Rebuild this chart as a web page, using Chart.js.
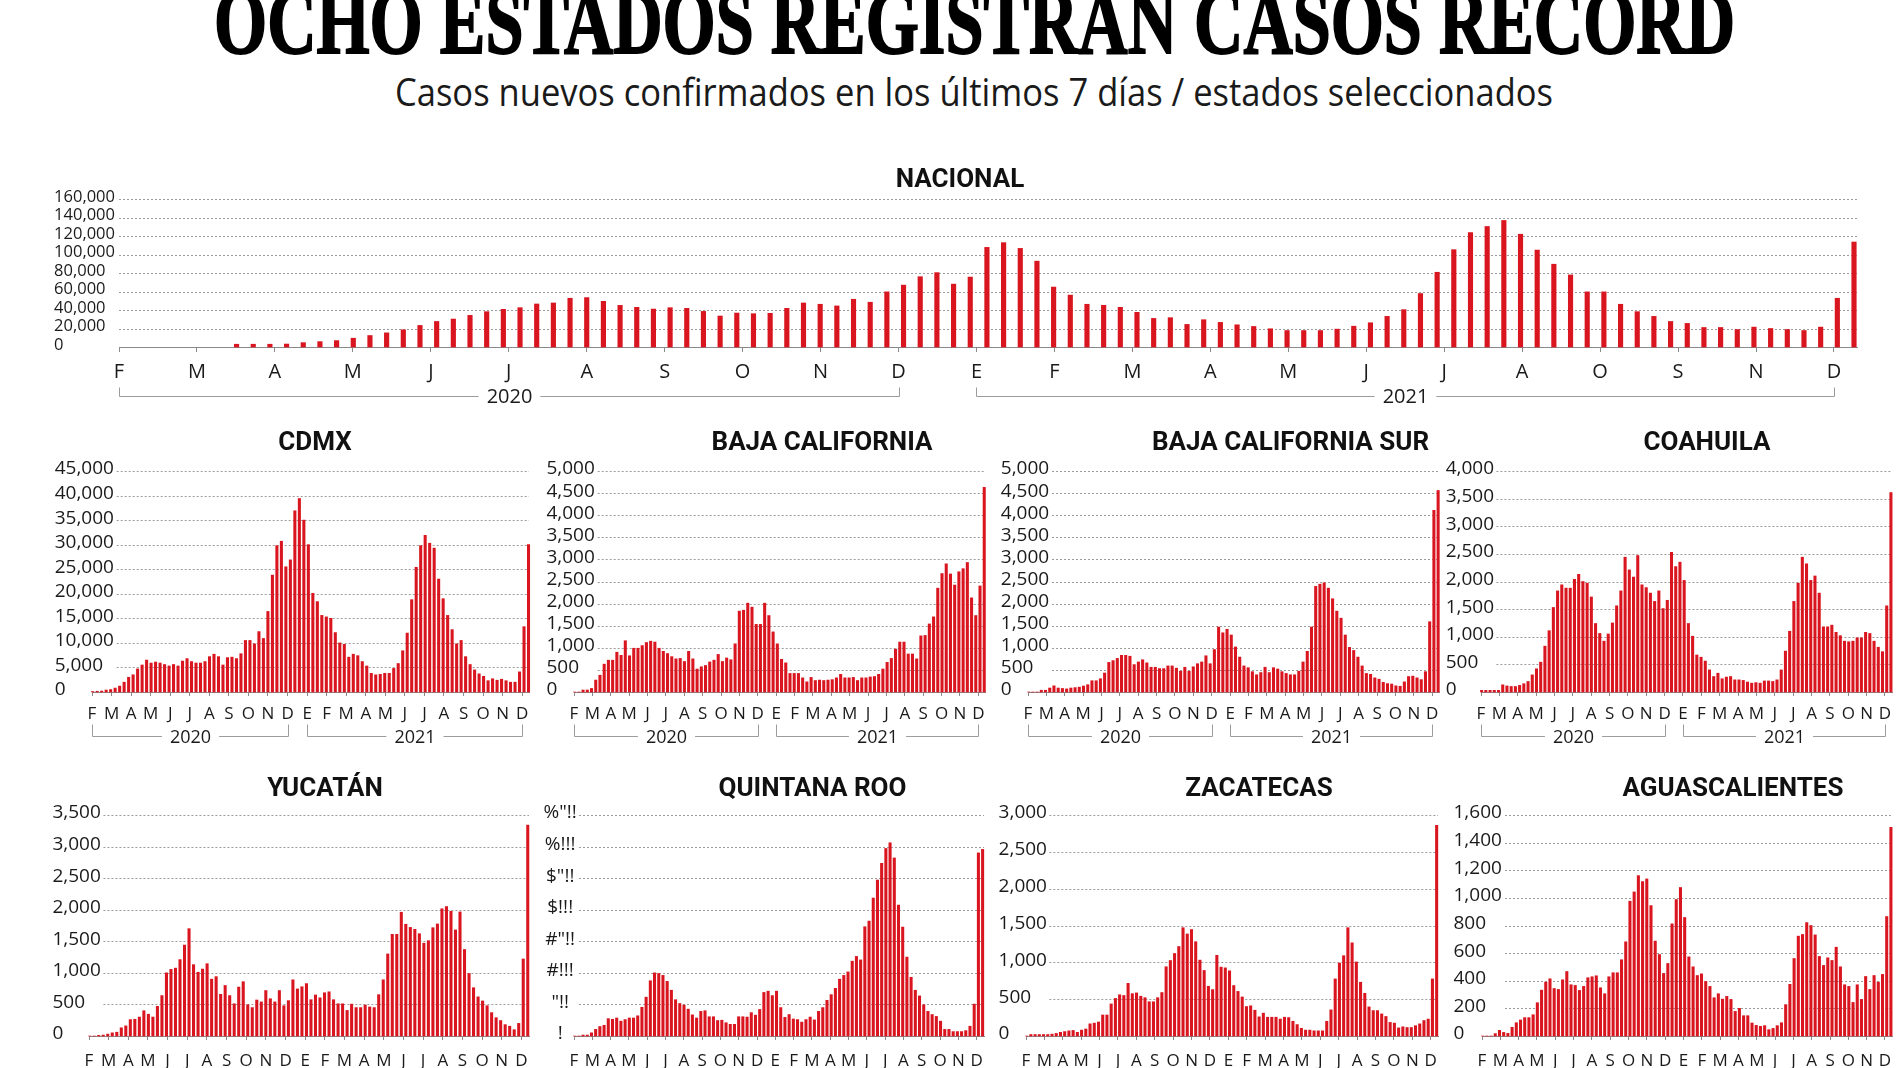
<!DOCTYPE html>
<html lang="es">
<head>
<meta charset="utf-8">
<title>Ocho estados registran casos récord</title>
<script src="https://cdn.jsdelivr.net/npm/chart.js@4.4.1/dist/chart.umd.min.js"></script>
<style>
    html, body { margin: 0; padding: 0; background: #fff; width: 1900px; height: 1068px; overflow: hidden; }
    .txt { position: absolute; white-space: nowrap; line-height: 1; transform-origin: 0 0; color: #111; }
    #titulo { font-family: "Liberation Serif", serif; font-weight: 700; font-size: 94px; -webkit-text-stroke: 2px #000; color: #000; }
    #subtitulo { font-family: "Open Sans", sans-serif; font-size: 38px; color: #1a1a1a; }
    .panel-t { font-family: Roboto, sans-serif; font-weight: 700; font-size: 26px; color: #111; }
    canvas { position: absolute; }
</style>
</head>
<body>
<div id="titulo" class="txt">OCHO ESTADOS REGISTRAN CASOS RECORD</div>
<div id="subtitulo" class="txt">Casos nuevos confirmados en los últimos 7 días / estados seleccionados</div>

<script>
// etiquetas de meses
const meses20 = ["F", "M", "A", "M", "J", "J", "A", "S", "O", "N", "D"];
const meses21 = ["E", "F", "M", "A", "M", "J", "J", "A", "S", "O", "N", "D"];
const mesesNac21 = ["E", "F", "M", "A", "M", "J", "J", "A", "O", "S", "N", "D"];
const anios = [{ texto: "2020", desde: 0, hasta: 10 }, { texto: "2021", desde: 11, hasta: 22 }];

// etiquetas del eje y de Quintana Roo tal como salen en la imagen
const ticksQR = ["!", "\"!!", "#!!!", "#\"!!", "$!!!", "$\"!!", "%!!!", "%\"!!"];

// casos nuevos por semana
const nacional = [3000, 3000, 3000, 3200, 4700, 5800, 6900, 9500, 12400, 15300,
    18600, 23300, 27600, 30200, 34200, 38200, 40700, 42500, 46500, 47600,
    52700, 53400, 49400, 45000, 42900, 41000, 42500, 41800, 38500, 33500,
    36700, 36000, 36400, 41800, 47600, 46200, 44400, 51600, 48400, 59600,
    66900, 76000, 80400, 68000, 75600, 107700, 112800, 106600, 92800, 64800,
    56100, 46200, 45100, 42900, 37500, 30900, 31700, 24400, 29500, 26600,
    24000, 22200, 19700, 17800, 17800, 17800, 19300, 22500, 26200, 33100,
    40400, 57800, 80800, 105200, 123700, 130300, 136800, 121900, 104800, 89500,
    77900, 59600, 59600, 46200, 38200, 33100, 27600, 25500, 21100, 21100,
    18900, 21500, 20000, 18900, 17800, 21500, 52700, 113500];

const cdmx = [100, 150, 200, 400, 500, 800, 1200, 2000, 3000, 3500,
    4700, 5500, 6500, 5900, 6100, 5900, 5600, 5300, 5600, 5300,
    6300, 6800, 6200, 5900, 5900, 6200, 7200, 7700, 7200, 5500,
    7000, 7100, 6800, 7800, 10500, 10500, 9800, 12300, 10900, 16400,
    23800, 29800, 30700, 25500, 26900, 36900, 39400, 35000, 30000, 20100,
    18400, 15600, 15300, 15000, 12100, 10000, 9700, 7100, 7700, 7400,
    6200, 5300, 3800, 3500, 3600, 3800, 3800, 4800, 5800, 8400,
    12000, 18800, 25400, 29800, 31900, 30300, 29300, 23000, 19000, 15600,
    12700, 9800, 10500, 7200, 5600, 4500, 3700, 3200, 2300, 2700,
    2400, 2600, 2300, 2000, 2000, 4100, 13300, 30000];

const bajaCalifornia = [0, 0, 45, 45, 80, 270, 380, 630, 720, 720, 900, 830,
    1160, 820, 990, 990, 1050, 1120, 1150, 1130, 990, 920,
    870, 800, 750, 760, 690, 920, 750, 520, 570, 600,
    680, 720, 850, 690, 770, 730, 1090, 1830, 1850, 2010,
    1920, 1530, 1530, 2010, 1730, 1360, 1090, 740, 660, 420,
    420, 420, 320, 230, 330, 260, 270, 260, 270, 280,
    320, 400, 320, 320, 330, 260, 320, 320, 340, 350,
    400, 520, 670, 760, 970, 1130, 1130, 860, 860, 750,
    1270, 1280, 1540, 1700, 2350, 2680, 2900, 2670, 2420, 2720,
    2790, 2930, 2130, 1730, 2400, 4630];

const bajaCaliforniaSur = [0, 0, 0, 40, 40, 90, 140, 90, 80, 70, 90, 100, 110,
    135, 165, 255, 255, 300, 430, 670, 710, 760, 830,
    830, 810, 620, 680, 730, 660, 560, 560, 530, 530,
    590, 590, 540, 470, 560, 470, 570, 640, 680, 820,
    640, 960, 1470, 1340, 1420, 1290, 1020, 790, 590, 550,
    460, 390, 440, 560, 440, 550, 520, 460, 420, 390,
    390, 470, 680, 920, 1470, 2390, 2440, 2470, 2350, 2110,
    1830, 1670, 1290, 1010, 940, 790, 590, 420, 400, 320,
    290, 220, 190, 180, 140, 130, 230, 350, 360, 320,
    280, 460, 1590, 4110, 4560];

const coahuila = [30, 30, 30, 30, 30, 130, 110, 100, 100, 120,
    150, 190, 310, 420, 540, 830, 1110, 1530, 1830, 1940,
    1880, 1880, 2040, 2130, 2000, 1970, 1720, 1240, 1060, 920,
    1050, 1250, 1560, 1830, 2440, 2210, 2080, 2470, 1940, 1890,
    1790, 1640, 1830, 1510, 1660, 2530, 2270, 2350, 2020, 1240,
    1010, 670, 630, 560, 400, 280, 340, 240, 270, 280,
    220, 220, 210, 180, 160, 170, 160, 200, 200, 190,
    220, 400, 740, 1100, 1640, 1970, 2440, 2320, 2020, 2100,
    1790, 1180, 1180, 1210, 1080, 1020, 920, 910, 920, 980,
    980, 1080, 1060, 920, 810, 730, 1560, 3610];

const yucatan = [0, 0, 10, 15, 30, 50, 60, 130, 160, 260, 265, 300,
    400, 345, 300, 470, 640, 1000, 1055, 1075, 1210, 1440,
    1700, 1130, 1010, 1060, 1145, 900, 940, 660, 800, 640,
    510, 775, 860, 495, 450, 570, 540, 720, 590, 540,
    720, 480, 560, 890, 745, 780, 830, 575, 650, 605,
    685, 700, 575, 510, 510, 405, 505, 450, 450, 490,
    460, 450, 655, 890, 1300, 1610, 1610, 1960, 1770, 1720,
    1690, 1620, 1470, 1510, 1715, 1775, 2015, 2050, 1975, 1680,
    1965, 1370, 990, 765, 620, 555, 480, 370, 290, 245,
    180, 155, 100, 200, 1220, 3340];

const quintanaRoo = [0, 0, 15, 15, 50, 105, 150, 170, 275, 265, 285, 235,
    260, 285, 285, 320, 455, 615, 875, 1000, 990, 960,
    865, 725, 575, 515, 490, 425, 335, 285, 390, 400,
    305, 305, 245, 250, 210, 185, 185, 305, 305, 300,
    370, 330, 420, 690, 710, 640, 710, 450, 295, 340,
    270, 260, 220, 260, 300, 255, 390, 450, 565, 655,
    755, 900, 960, 1015, 1185, 1260, 1205, 1730, 1820, 2185,
    2470, 2735, 2970, 3060, 2820, 2075, 1725, 1250, 930, 725,
    635, 495, 390, 340, 310, 235, 105, 105, 70, 70,
    70, 85, 155, 505, 2900, 2955];

const zacatecas = [0, 20, 20, 20, 20, 20, 25, 35, 50, 60, 70,
    75, 50, 80, 95, 165, 175, 190, 285, 285, 435,
    510, 560, 550, 715, 575, 585, 540, 520, 465, 465,
    520, 590, 940, 1025, 1120, 1215, 1470, 1385, 1445, 1280,
    1030, 890, 675, 630, 1095, 935, 925, 885, 685, 605,
    530, 400, 410, 350, 260, 310, 255, 255, 255, 230,
    255, 250, 200, 155, 105, 80, 80, 70, 70, 70,
    200, 355, 775, 990, 1090, 1470, 1265, 1005, 730, 580,
    395, 345, 345, 300, 265, 185, 175, 110, 125, 115,
    115, 140, 165, 210, 230, 775, 2860];

const aguascalientes = [0, 0, 0, 17, 41, 26, 19, 63, 96, 116, 133, 133, 154,
    241, 332, 390, 414, 344, 337, 407, 467, 371, 366,
    330, 359, 422, 429, 436, 349, 306, 429, 458, 458,
    552, 682, 976, 1043, 1161, 1118, 1137, 944, 687, 590,
    453, 525, 812, 988, 1075, 858, 573, 501, 438, 450,
    395, 359, 277, 306, 267, 287, 265, 178, 200, 147,
    147, 94, 77, 70, 75, 46, 55, 75, 96, 227,
    374, 561, 723, 735, 821, 800, 732, 576, 511, 566,
    547, 643, 501, 371, 359, 243, 371, 265, 431, 337,
    438, 390, 446, 865, 1511];

const ROJO = "#d9161f";
const fuente = "'Open Sans', sans-serif";

const fila1 = { top: 471, bottom: 692, base: 450, padX: 8, dy: 44 };
const fila2 = { top: 815, bottom: 1036, base: 796, padX: 11, dy: 46 };

const paneles = [
    { titulo: "NACIONAL", datos: nacional, cx: 960, base: 187, top: 199, bottom: 347,
      left: 119.4, dPx: 1834, right: 1857, t0: -7.05, paso: 4.675, meses: meses20.concat(mesesNac21),
      yMax: 160000, yPaso: 20000, labelLeft: 54.5, desde: 0, barra: 4.5,
      fy: 16.5, fx: 20, fAnio: 20, padX: 8, tick: 5, dy: 49, alto: 9 },
    { titulo: "CDMX", datos: cdmx, cx: 315, fila: fila1, left: 92.3, dPx: 522.7, right: 529.5,
      yMax: 45000, yPaso: 5000, labelLeft: 55, desde: 24.7 },
    { titulo: "BAJA CALIFORNIA", datos: bajaCalifornia, cx: 822, fila: fila1, left: 574.3, dPx: 978.3, right: 985,
      yMax: 5000, yPaso: 500, labelLeft: 546.7, desde: 23.7 },
    { titulo: "BAJA CALIFORNIA SUR", datos: bajaCaliforniaSur, cx: 1290.5, fila: fila1, left: 1027.7, dPx: 1431.7, right: 1438.5,
      yMax: 5000, yPaso: 500, labelLeft: 1000.5, desde: 24 },
    { titulo: "COAHUILA", datos: coahuila, cx: 1707, fila: fila1, left: 1481.3, dPx: 1885, right: 1892,
      yMax: 4000, yPaso: 500, labelLeft: 1446, desde: 15.4 },
    { titulo: "YUCATÁN", datos: yucatan, cx: 325, fila: fila2, left: 89, dPx: 521.4, right: 529,
      yMax: 3500, yPaso: 500, labelLeft: 52.4, desde: 14.4 },
    { titulo: "QUINTANA ROO", datos: quintanaRoo, cx: 812.5, fila: fila2, left: 574.3, dPx: 976.7, right: 984,
      yMax: 3500, yPaso: 500, labelCentro: 560.5, desde: 5, etiquetas: ticksQR },
    { titulo: "ZACATECAS", datos: zacatecas, cx: 1259, fila: fila2, left: 1025.7, dPx: 1430.7, right: 1438,
      yMax: 3000, yPaso: 500, labelLeft: 998.3, desde: 23.3 },
    { titulo: "AGUASCALIENTES", datos: aguascalientes, cx: 1733, fila: fila2, left: 1482, dPx: 1885, right: 1892,
      yMax: 1600, yPaso: 200, labelLeft: 1453.5, desde: 23 }
];

// rejilla punteada y corchetes de los años
const rejilla = {
    id: "rejilla",
    beforeDatasetsDraw(chart, args, o) {
        const { ctx, chartArea: ca, scales: { y } } = chart;
        ctx.save();
        ctx.strokeStyle = "#9c9c9c";
        ctx.lineWidth = 1;
        ctx.setLineDash([2, 2]);
        y.ticks.forEach(t => {
            if (t.value === 0) return;
            const py = Math.round(y.getPixelForValue(t.value)) + 0.5;
            ctx.beginPath();
            ctx.moveTo(ca.left + o.desde, py);
            ctx.lineTo(ca.right, py);
            ctx.stroke();
        });
        ctx.restore();
    },
    afterDraw(chart, args, o) {
        const { ctx, chartArea: ca, scales: { x } } = chart;
        const yy = Math.round(ca.bottom + o.dy) + 0.5;
        ctx.save();
        ctx.font = o.fuente;
        ctx.fillStyle = "#1a1a1a";
        ctx.strokeStyle = "#9c9c9c";
        ctx.lineWidth = 1;
        ctx.textAlign = "center";
        ctx.textBaseline = "middle";
        anios.forEach(a => {
            const x1 = Math.round(x.getPixelForValue(o.pos[a.desde])) + 0.5;
            const x2 = Math.round(x.getPixelForValue(o.pos[a.hasta])) + 0.5;
            const cx = (x1 + x2) / 2;
            const hw = ctx.measureText(a.texto).width / 2 + 8;
            ctx.beginPath();
            ctx.moveTo(x1, yy - o.alto);
            ctx.lineTo(x1, yy);
            ctx.lineTo(cx - hw, yy);
            ctx.moveTo(cx + hw, yy);
            ctx.lineTo(x2, yy);
            ctx.lineTo(x2, yy - o.alto);
            ctx.stroke();
            ctx.fillText(a.texto, cx, yy + 1);
        });
        ctx.restore();
    }
};

const medidor = document.createElement("canvas").getContext("2d");

function colocar(el, x, base, ancho, centrado) {
    el.style.left = "0px";
    el.style.top = "0px";
    const sonda = document.createElement("span");
    sonda.style.cssText = "display:inline-block;width:0;height:0;vertical-align:baseline";
    el.appendChild(sonda);
    const r = el.getBoundingClientRect();
    const b = sonda.getBoundingClientRect().top - r.top;
    el.removeChild(sonda);
    const s = ancho ? ancho / r.width : 1;
    el.style.left = (centrado ? x - r.width * s / 2 : x) + "px";
    el.style.top = (base - b) + "px";
    if (ancho) el.style.transform = "scaleX(" + s + ")";
}

function crearPanel(p) {
    const f = p.fila || {};
    const top = p.top ?? f.top, bottom = p.bottom ?? f.bottom;
    const t0 = p.t0 ?? -0.15, paso = p.paso ?? 4.352;
    const meses = p.meses || meses20.concat(meses21);
    const padL = 90, padT = 22, padR = 22, padB = 72;
    const fy = p.fy || 19;

    const cv = document.createElement("canvas");
    const x0 = p.left - padL, y0 = top - padT;
    const w = Math.round(p.right + padR - x0), h = Math.round(bottom + padB - y0);
    cv.width = w;
    cv.height = h;
    cv.style.left = x0 + "px";
    cv.style.top = y0 + "px";
    cv.style.width = w + "px";
    cv.style.height = h + "px";
    document.body.appendChild(cv);

    const unidad = (p.dPx - p.left) / (22 * paso);
    const posMeses = meses.map((m, i) => t0 + i * paso);
    const etiquetaY = p.etiquetas
        ? (v, i) => p.etiquetas[i]
        : v => Number(v).toLocaleString("en-US");

    // etiquetas del eje y alineadas a la izquierda (mirror evita el recorte)
    let alinear = "near", relleno = (p.labelLeft ?? 0) - p.left;
    if (p.labelCentro !== undefined) {
        medidor.font = fy + "px " + fuente;
        let ancho = 0;
        for (let v = 0, i = 0; v <= p.yMax; v += p.yPaso, i++) {
            ancho = Math.max(ancho, medidor.measureText(etiquetaY(v, i)).width);
        }
        alinear = "center";
        relleno = p.labelCentro - p.left - ancho / 2;
    }

    new Chart(cv, {
        type: "bar",
        data: {
            datasets: [{
                data: p.datos.map((v, i) => ({ x: i, y: v })),
                backgroundColor: ROJO,
                barThickness: p.barra || 2.4,
                clip: false
            }]
        },
        options: {
            responsive: false,
            animation: false,
            devicePixelRatio: 1,
            layout: { padding: { left: 0, top: padT, right: padR, bottom: 0 } },
            plugins: {
                legend: { display: false },
                tooltip: { enabled: false },
                rejilla: {
                    desde: p.desde, pos: posMeses, dy: p.dy ?? f.dy, alto: p.alto || 12,
                    fuente: (p.fAnio || 18) + "px " + fuente
                }
            },
            scales: {
                x: {
                    type: "linear",
                    min: t0,
                    max: t0 + (p.right - p.left) / unidad,
                    offset: false,
                    afterFit: a => { a.height = padB; },
                    afterBuildTicks: a => { a.ticks = posMeses.map(v => ({ value: v })); },
                    grid: { offset: false, drawOnChartArea: false, drawTicks: true, tickLength: p.tick || 4, color: "#8a8a8a" },
                    border: { display: true, color: "#8a8a8a", width: 1 },
                    ticks: {
                        autoSkip: false, maxRotation: 0, padding: p.padX ?? f.padX,
                        color: "#1a1a1a", font: { family: fuente, size: p.fx || 17 },
                        callback: (v, i) => meses[i]
                    }
                },
                y: {
                    min: 0,
                    max: p.yMax,
                    afterFit: a => { a.width = padL; },
                    grid: { display: false, drawTicks: false },
                    border: { display: false },
                    ticks: {
                        stepSize: p.yPaso, autoSkip: false,
                        mirror: true,
                        crossAlign: alinear,
                        padding: relleno,
                        labelOffset: -2,
                        color: "#1a1a1a", font: { family: fuente, size: fy },
                        callback: etiquetaY
                    }
                }
            }
        },
        plugins: [rejilla]
    });

    const t = document.createElement("div");
    t.className = "txt panel-t";
    t.textContent = p.titulo;
    document.body.appendChild(t);
    colocar(t, p.cx, p.base ?? f.base, 0, true);
}

colocar(document.getElementById("titulo"), 214, 53, 1521, false);
colocar(document.getElementById("subtitulo"), 395, 106, 1158, false);
paneles.forEach(crearPanel);
</script>
</body>
</html>
